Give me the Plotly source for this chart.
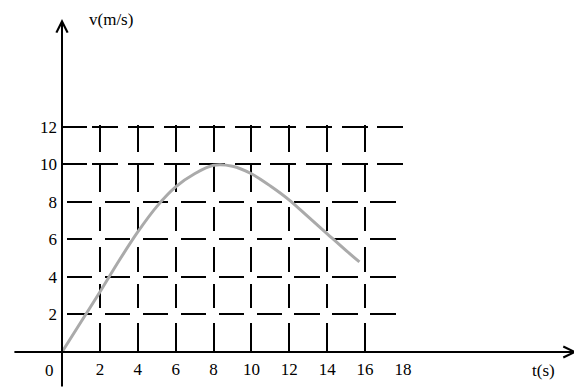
import plotly.graph_objects as go

# v-t curve
t_s = [0, 1, 2, 3, 4, 5, 6, 7, 8, 9, 10, 11, 12, 13, 14, 15, 15.7]
v_ms = [0, 1.6, 3.2, 4.85, 6.4, 7.75, 8.8, 9.5, 9.95, 9.9, 9.5, 8.85, 8.1, 7.2, 6.3, 5.4, 4.8]

t_ticks = [2, 4, 6, 8, 10, 12, 14, 16, 18]
v_ticks = [2, 4, 6, 8, 10, 12]
v_rows_low = [2, 4, 6, 8]
v_rows_top = [10, 12]

serif = dict(family="Liberation Serif", size=17, color="black")

# dash patterns of the hand drawn grid (px along each line)
dash_cols = "27px,13px,27px,15px,24px,16px,25px,12px,24px,15px,29px"
dash_rows_low = "0px,5px,25.4px,7.5px"
dash_rows_top = "24.7px,5.6px," + ",".join(["26px,9.6px"] * 8) + ",26px"

fig = go.Figure()
fig.add_trace(go.Scatter(
    x=t_s,
    y=v_ms,
    mode="lines",
    line=dict(color="#aaaaaa", width=3, shape="spline", smoothing=0.8),
    hoverinfo="skip",
))
# empty traces so the overlay axes (grid rows) get drawn
for ax_id in ["y2", "y3"]:
    fig.add_trace(go.Scatter(x=[None], y=[None], yaxis=ax_id, mode="lines",
                             hoverinfo="skip", showlegend=False))

y_range = [0, 12.1]

# page body has an 8px margin, so the paper is shifted by 8px
fig.update_layout(
    width=582,
    height=390,
    margin=dict(l=54, r=187, t=117, b=46, autoexpand=False),
    paper_bgcolor="white",
    plot_bgcolor="white",
    showlegend=False,
    xaxis=dict(
        range=[0, 18],
        tickmode="array",
        tickvals=t_ticks,
        ticktext=[str(v) for v in t_ticks],
        tickfont=serif,
        ticks="",
        ticklabelstandoff=5,
        showgrid=True,
        gridcolor="black",
        gridwidth=2,
        griddash=dash_cols,
        zeroline=False,
        showline=False,
        automargin=False,
        fixedrange=True,
    ),
    yaxis=dict(
        range=y_range,
        tickmode="array",
        tickvals=v_ticks,
        ticktext=[str(v) for v in v_ticks],
        tickfont=serif,
        ticks="",
        ticklabelstandoff=4,
        showgrid=False,
        zeroline=False,
        showline=False,
        automargin=False,
        fixedrange=True,
    ),
    # lower rows: gaps at the crossings
    yaxis2=dict(
        range=y_range,
        overlaying="y",
        anchor="x",
        tickmode="array",
        tickvals=v_rows_low,
        showticklabels=False,
        ticks="",
        showgrid=True,
        gridcolor="black",
        gridwidth=2,
        griddash=dash_rows_low,
        zeroline=False,
        automargin=False,
        fixedrange=True,
    ),
    # top rows: T shaped dashes
    yaxis3=dict(
        range=y_range,
        overlaying="y",
        anchor="x",
        tickmode="array",
        tickvals=v_rows_top,
        showticklabels=False,
        ticks="",
        showgrid=True,
        gridcolor="black",
        gridwidth=2,
        griddash=dash_rows_top,
        zeroline=False,
        automargin=False,
        fixedrange=True,
    ),
)

# axes drawn as arrows
fig.add_annotation(
    x=1.51, xref="paper", y=0, yref="y",
    ax=-564, ay=0, axref="pixel", ayref="pixel",
    text="", showarrow=True, arrowhead=5, arrowsize=1.1,
    arrowwidth=2, arrowcolor="black",
)
fig.add_annotation(
    x=0, xref="x", y=1.467, yref="paper",
    ax=0, ay=369, axref="pixel", ayref="pixel",
    text="", showarrow=True, arrowhead=5, arrowsize=1.1,
    arrowwidth=2, arrowcolor="black",
)

labels = dict(xref="paper", yref="paper", showarrow=False, font=serif,
              xanchor="center", yanchor="middle")
fig.add_annotation(x=0.1437, y=1.4626, text="v(m/s)", **labels)
fig.add_annotation(x=1.4106, y=-0.0793, text="t(s)", **labels)
fig.add_annotation(x=-0.0352, y=-0.0793, text="0", **labels)

fig.write_html("out.html")
